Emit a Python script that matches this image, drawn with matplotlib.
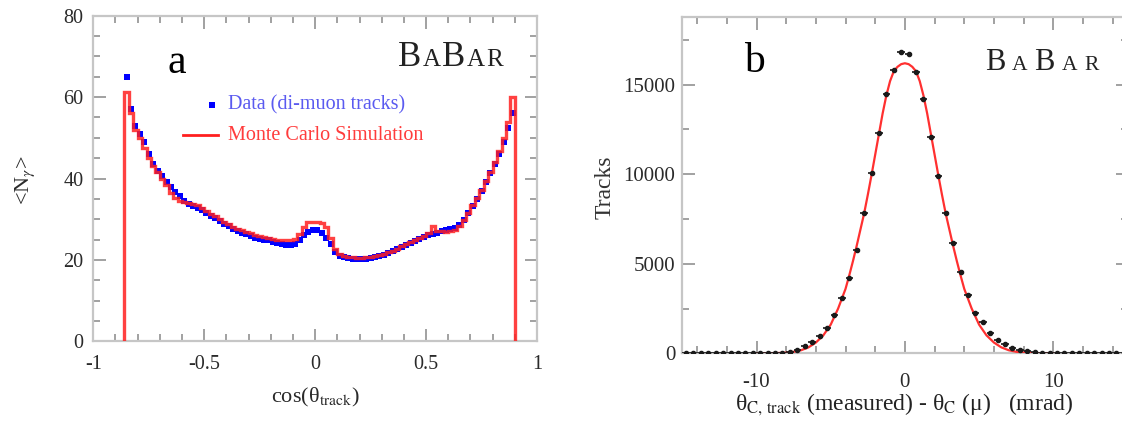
import numpy as np
import matplotlib
matplotlib.use("Agg")
import matplotlib.pyplot as plt
import matplotlib.transforms as mtransforms
from matplotlib.lines import Line2D
from matplotlib.ticker import MultipleLocator, FuncFormatter
from matplotlib.offsetbox import TextArea, HPacker, AnnotationBbox

plt.rcParams['font.family'] = ['Liberation Serif', 'DejaVu Serif']
plt.rcParams['mathtext.fontset'] = 'stix'
plt.rcParams['axes.unicode_minus'] = False

# ---------------- panel a data ----------------
cos_centers = np.round(np.arange(-0.85, 0.90, 0.02), 2)
data_nphot = [65.0, 57.0, 53.0, 51.0, 49.0, 46.0, 43.5, 41.8, 40.5, 39.2,
              38.0, 36.8, 35.6, 34.5, 33.8, 33.3, 32.8, 32.2, 31.6, 30.9,
              30.2, 29.5, 28.9, 28.3, 27.6, 27.1, 26.7, 26.3, 25.9, 25.5,
              25.2, 25.0, 24.8, 24.5, 24.2, 23.9, 23.7, 23.7, 24.0, 24.9,
              26.0, 26.9, 27.4, 27.3, 26.6, 25.5, 23.8, 22.0, 21.0, 20.6,
              20.4, 20.3, 20.2, 20.2, 20.3, 20.5, 20.7, 21.0, 21.3, 21.7,
              22.1, 22.6, 23.1, 23.6, 24.1, 24.6, 25.1, 25.6, 26.0, 26.3,
              26.7, 27.0, 27.3, 27.5, 27.8, 28.5, 29.8, 31.6, 33.3, 35.0,
              37.0, 39.2, 41.3, 43.6, 46.0, 49.0, 52.5, 56.0]
mc_nphot = [61.3, 56.0, 52.0, 50.0, 47.5, 45.0, 43.0, 41.5, 40.0, 38.5,
            36.5, 35.2, 34.5, 34.2, 34.0, 33.7, 33.4, 32.8, 32.1, 31.4,
            30.7, 30.0, 29.4, 28.8, 28.2, 27.7, 27.3, 26.9, 26.5, 26.1,
            25.8, 25.6, 25.4, 25.2, 25.0, 25.0, 24.9, 25.0, 25.2, 26.3,
            28.2, 29.2, 29.4, 29.4, 29.1, 28.0, 25.5, 22.6, 21.4, 21.0,
            20.8, 20.6, 20.5, 20.5, 20.6, 20.8, 21.0, 21.2, 21.5, 21.9,
            22.3, 22.8, 23.3, 23.8, 24.3, 24.8, 25.3, 25.8, 26.6, 28.3,
            27.2, 27.0, 26.9, 27.0, 27.4, 28.3, 29.7, 31.6, 33.4, 35.2,
            37.2, 39.3, 41.5, 44.0, 46.8, 50.0, 53.8, 60.0]
a_xticks = [-1, -0.5, 0, 0.5, 1]
a_xticklabels = ["-1", "-0.5", "0", "0.5", "1"]
a_yticks = [0, 20, 40, 60, 80]

# ---------------- panel b data ----------------
dtheta_centers = np.arange(-14.75, 15.0, 0.5)
tracks = [0, 0, 0, 1, 1, 1, 2, 2, 3, 4,
          6, 9, 15, 30, 80, 180, 380, 640, 950, 1400,
          2140, 3070, 4190, 5770, 7820, 10050, 12290, 14470, 15820, 16850,
          16700, 15730, 14200, 12060, 9900, 7820, 6180, 4560, 3260, 2230,
          1770, 1120, 740, 520, 280, 190, 110, 60, 30, 15,
          9, 6, 4, 3, 2, 2, 1, 1, 0, 0]
fit_x = [-10, -9.5, -9, -8.5, -8, -7.5, -7, -6.5, -6, -5.5, -5, -4.5, -4,
         -3.75, -3.5, -3.25, -3, -2.75, -2.5, -2.25, -2, -1.75, -1.5, -1.25,
         -1, -0.75, -0.5, -0.25, 0, 0.25, 0.5, 0.75, 1, 1.25, 1.5, 1.75, 2,
         2.25, 2.5, 2.75, 3, 3.25, 3.5, 3.75, 4, 4.5, 5, 5.5, 6, 6.5, 7, 7.5,
         8, 8.5, 9, 9.5, 10]
fit_y = [1, 3, 8, 18, 40, 85, 170, 330, 600, 1000, 1600, 2500, 3600,
         4350, 5150, 6000, 6900, 7800, 8850, 9950, 11100, 12250, 13400, 14400,
         15200, 15750, 16000, 16150, 16200, 16150, 16000, 15750, 15200, 14400,
         13400, 12250, 11100, 9950, 8850, 7800, 6900, 6000, 5150, 4350, 3600,
         2500, 1600, 1000, 600, 330, 170, 85, 40, 18, 8, 3, 1]

W, H = 1122, 426
fig = plt.figure(figsize=(W / 100, H / 100), dpi=100)
pix = mtransforms.Affine2D().scale(1 / W, -1 / H).translate(0, 1) + fig.transFigure

SPINE = '#c6c6c6'
TICK = '#9a9a9a'
LAB = '#2a2a2a'

def style(ax, xpad, ypad, size):
    for s in ax.spines.values():
        s.set_color(SPINE)
        s.set_linewidth(1.6)
    ax.tick_params(which='both', direction='in', top=True, right=True,
                   color=TICK, width=1.3, labelcolor=LAB, labelsize=size)
    ax.tick_params(which='major', length=9)
    ax.tick_params(which='minor', length=5)
    ax.tick_params(axis='x', pad=xpad)
    ax.tick_params(axis='y', pad=ypad)

# ---------------- panel a ----------------
axa = fig.add_axes([93.3 / W, 1 - 341.3 / H, 443.7 / W, 325.6 / H])
edges = np.concatenate([cos_centers - 0.01, [cos_centers[-1] + 0.01]])
axa.plot(cos_centers, data_nphot, 's', color='#0000ff', ms=5, mew=0,
         zorder=3)
axa.stairs(mc_nphot, edges, baseline=0, color='#ff1f1f', lw=2.4,
           alpha=0.85, zorder=4)
axa.set_xlim(-1, 1)
axa.set_ylim(0, 80)
axa.set_xticks(a_xticks)
axa.set_xticklabels(a_xticklabels)
axa.set_yticks(a_yticks)
axa.xaxis.set_minor_locator(MultipleLocator(0.1))
axa.yaxis.set_minor_locator(MultipleLocator(5))
style(axa, 10, 7, 14.5)

fig.text(315, 397, r"cos(θ$_{\rm track}$)", fontsize=16, color=LAB,
         ha='center', va='center', transform=pix)
fig.text(25, 180, r"<N$_\gamma$>", fontsize=16, color=LAB, rotation=90,
         ha='center', va='center', transform=pix)
fig.text(177, 63, "a", fontsize=30, color='black', ha='center', va='center',
         transform=pix)

# legend
fig.add_artist(Line2D([211.7], [105], marker='s', ms=4.5, mew=0,
                      color='#0000ff', linestyle='none', transform=pix))
fig.add_artist(Line2D([183, 218], [135, 135], color='#ff1f1f', lw=2,
                      transform=pix))
fig.text(228, 105, "Data (di-muon tracks)", fontsize=14.5, color='#5a5af0',
         va='center', ha='left', transform=pix)
fig.text(228, 135, "Monte Carlo Simulation", fontsize=14.5, color='#ff3c3c',
         va='center', ha='left', transform=pix)

# ---------------- panel b ----------------
axb = fig.add_axes([682.3 / W, 1 - 353.3 / H, 445.2 / W, 336.6 / H])
axb.plot(fit_x, fit_y, color='#ff3030', lw=1.6, zorder=3)
axb.errorbar(dtheta_centers, tracks, xerr=0.25, fmt='o', color='#1a1a1a',
             ms=3, elinewidth=1.2, capsize=0, zorder=4)
axb.set_xlim(-15, 15)
axb.set_ylim(0, 18800)
axb.xaxis.set_major_locator(MultipleLocator(10))
axb.xaxis.set_minor_locator(MultipleLocator(2))
axb.yaxis.set_major_locator(MultipleLocator(5000))
axb.yaxis.set_minor_locator(MultipleLocator(2500))
axb.xaxis.set_major_formatter(FuncFormatter(lambda v, p: f"{v:g}"))
axb.yaxis.set_major_formatter(FuncFormatter(lambda v, p: f"{v:g}"))
style(axb, 14, 5, 15)

fig.text(604.8, 187, "Tracks", fontsize=17, color='#333333', rotation=90,
         ha='center', va='center', transform=pix)
fig.text(904, 405,
         r"θ$_{\mathrm{C,\,track}}$ (measured) - θ$_{\mathrm{C}}$ (μ)   (mrad)",
         fontsize=17, color='#222222', ha='center', va='center', transform=pix)
fig.text(754.5, 62, "b", fontsize=30, color='black', ha='center',
         va='center', transform=pix)

# ---------------- BABAR logos ----------------
def babar(x, y, big, small, sep):
    parts = [("B", big), ("A", small), ("B", big), ("A", small), ("R", small)]
    boxes = [TextArea(t, textprops=dict(fontsize=s, color='#222222'))
             for t, s in parts]
    pk = HPacker(children=boxes, align='baseline', pad=0, sep=sep)
    ab = AnnotationBbox(pk, (x, H - y), xycoords='figure pixels',
                        box_alignment=(0, 0.5), frameon=False, pad=0)
    fig.add_artist(ab)

babar(398, 57, 25, 18, 1)
babar(984.7, 63, 22, 15.5, 5)

fig.savefig("out.png", dpi=100)
